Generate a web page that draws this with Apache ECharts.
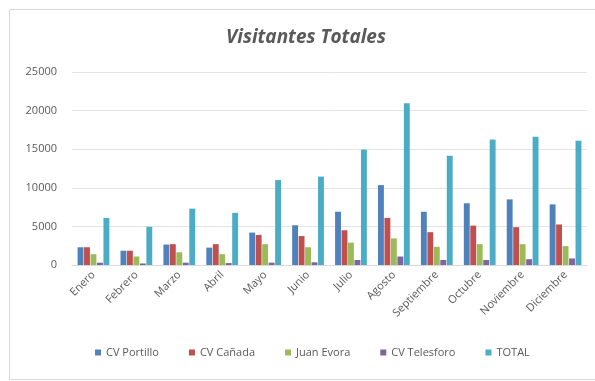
<!DOCTYPE html>
<html>
<head>
<meta charset="utf-8">
<script src="https://cdn.jsdelivr.net/npm/echarts@6/dist/echarts.min.js"></script>
<style>
  html, body { margin: 0; padding: 0; background: #fff; }
  #chart { width: 595px; height: 381px; }
</style>
</head>
<body>
<div id="chart"></div>
<script>
// months on the x axis
const meses = ["Enero", "Febrero", "Marzo", "Abril", "Mayo", "Junio", "Julio",
  "Agosto", "Septiembre", "Octubre", "Noviembre", "Diciembre"];

// visitors per centre
const cvPortillo = [2300, 1850, 2650, 2250, 4200, 5150, 6900, 10350, 6900, 8000, 8500, 7850];
const cvCanada = [2300, 1850, 2700, 2700, 3900, 3750, 4500, 6100, 4250, 5100, 4900, 5250];
const juanEvora = [1400, 1100, 1650, 1400, 2700, 2300, 2900, 3450, 2350, 2700, 2700, 2450];
const cvTelesforo = [300, 200, 300, 250, 300, 350, 650, 1100, 650, 650, 750, 850];
const total = [6100, 4950, 7300, 6750, 11000, 11450, 14950, 20950, 14150, 16250, 16600, 16100];

const yTicks = [0, 5000, 10000, 15000, 20000, 25000];

const colores = ["#4F81BD", "#C0504D", "#9BBB59", "#8064A2", "#4BACC6"];
const txt = "#595959";
const font = "'Open Sans', 'Liberation Sans', sans-serif";

function serie(name, data) {
  return {
    name: name,
    type: "bar",
    data: data,
    barGap: "10%",
    barCategoryGap: "26%"
  };
}

const chart = echarts.init(document.getElementById("chart"), null, { renderer: "canvas" });

chart.setOption({
  animation: false,
  color: colores,
  textStyle: { fontFamily: font },
  graphic: [
    {
      type: "rect",
      shape: { x: 9.5, y: 9.5, width: 600, height: 370 },
      style: { fill: "none", stroke: "#d9d9d9", lineWidth: 1 },
      silent: true
    },
    {
      type: "text",
      x: 306,
      y: 38,
      style: {
        text: "Visitantes Totales",
        fill: txt,
        font: "italic bold 19px " + font,
        textAlign: "center",
        textVerticalAlign: "middle"
      }
    }
  ],
  legend: {
    bottom: 18,
    left: 90,
    itemWidth: 6,
    itemHeight: 6,
    itemGap: 30,
    icon: "rect",
    textStyle: { color: txt, fontSize: 11, fontFamily: font },
    data: ["CV Portillo", "CV Cañada", "Juan Evora", "CV Telesforo", "TOTAL"]
  },
  grid: { left: 72, right: 8, top: 72, bottom: 116, containLabel: false },
  xAxis: {
    type: "category",
    data: meses,
    axisLine: { lineStyle: { color: "#d9d9d9" } },
    axisTick: { show: false },
    axisLabel: { rotate: 45, color: txt, fontSize: 11, margin: 8, interval: 0, fontFamily: font }
  },
  yAxis: {
    type: "value",
    min: yTicks[0],
    max: yTicks[yTicks.length - 1],
    interval: 5000,
    axisLine: { show: false },
    axisTick: { show: false },
    axisLabel: { color: txt, fontSize: 11, margin: 15, fontFamily: font, formatter: v => String(v) },
    splitLine: { lineStyle: { color: "#e4e4e4" } }
  },
  series: [
    serie("CV Portillo", cvPortillo),
    serie("CV Cañada", cvCanada),
    serie("Juan Evora", juanEvora),
    serie("CV Telesforo", cvTelesforo),
    serie("TOTAL", total)
  ]
});
</script>
</body>
</html>
